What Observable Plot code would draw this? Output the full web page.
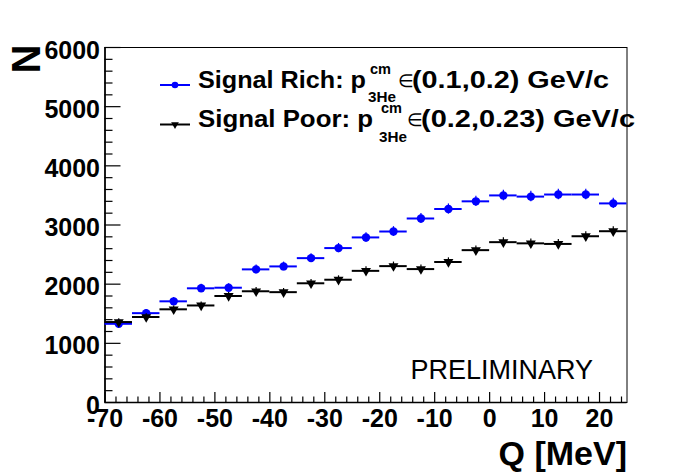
<!DOCTYPE html>
<html>
<head>
<meta charset="utf-8">
<script src="https://cdn.jsdelivr.net/npm/d3@7"></script>
<script src="https://cdn.jsdelivr.net/npm/@observablehq/plot@0.6"></script>
<style>
  html, body { margin: 0; padding: 0; background: #fff; }
  svg { display: block; }
</style>
</head>
<body>
<div id="chart"></div>
<script>
// ---- data ----
const qLow  = [-70, -65, -60, -55, -50, -45, -40, -35, -30, -25, -20, -15, -10, -5, 0, 5, 10, 15, 20];
const qHigh = [-65, -60, -55, -50, -45, -40, -35, -30, -25, -20, -15, -10, -5, 0, 5, 10, 15, 20, 25];
const richCounts = [1330, 1510, 1710, 1930, 1940, 2250, 2300, 2440, 2610, 2790, 2890, 3110, 3270, 3400, 3500, 3480, 3515, 3515, 3365];
const richErrors = [60, 62, 65, 68, 68, 72, 73, 75, 78, 80, 82, 84, 86, 88, 89, 89, 90, 90, 88];
const poorCounts = [1360, 1445, 1575, 1640, 1800, 1880, 1865, 2015, 2075, 2225, 2305, 2255, 2375, 2575, 2710, 2690, 2680, 2810, 2895];
const poorErrors = [55, 56, 58, 59, 61, 62, 62, 65, 66, 68, 69, 68, 70, 72, 74, 74, 74, 76, 77];
const xTickLabels = [-70, -60, -50, -40, -30, -20, -10, 0, 10, 20];
const yTickLabels = [0, 1000, 2000, 3000, 4000, 5000, 6000];

const xMinor = d3.range(-70, 25.01, 2).filter(v => v % 10 !== 0);
const yMinor = d3.range(0, 6000.1, 200).filter(v => v % 1000 !== 0);

const rich = qLow.map((lo, i) => ({lo, hi: qHigh[i], mid: (lo + qHigh[i]) / 2, n: richCounts[i], e: richErrors[i]}));
const poor = qLow.map((lo, i) => ({lo, hi: qHigh[i], mid: (lo + qHigh[i]) / 2, n: poorCounts[i], e: poorErrors[i]}));

const W = 696, H = 474;
const mL = 104.5, mR = 69.5, mT = 47, mB = 72;
const innerW = W - mL - mR, innerH = H - mT - mB;
const FONT = "'Liberation Sans', Arial, Helvetica, sans-serif";
const BLUE = "#0000ff";

const plot = Plot.plot({
  width: W,
  height: H,
  marginLeft: mL, marginRight: mR, marginTop: mT, marginBottom: mB,
  style: {fontFamily: FONT, background: "#fff", color: "#000", overflow: "visible"},
  x: {domain: [-70, 25], nice: false},
  y: {domain: [0, 6000], nice: false},
  marks: [
    Plot.frame({stroke: "#000", strokeWidth: 1}),
    Plot.ruleX([-70], {stroke: "#000", strokeWidth: 1.6}),
    Plot.ruleY([0], {stroke: "#000", strokeWidth: 1.6}),
    // inward ticks
    Plot.tickX(xTickLabels, {x: d => d, insetTop: innerH - 10, stroke: "#000", strokeWidth: 1.2}),
    Plot.tickX(xMinor, {x: d => d, insetTop: innerH - 5.5, stroke: "#000", strokeWidth: 1.2}),
    Plot.tickY(yTickLabels, {y: d => d, insetRight: innerW - 16, stroke: "#000", strokeWidth: 1.2}),
    Plot.tickY(yMinor, {y: d => d, insetRight: innerW - 8, stroke: "#000", strokeWidth: 1.2}),
    Plot.axisX(xTickLabels, {tickSize: 0, tickPadding: 7, fontSize: 25, fontWeight: "bold", tickFormat: d => String(d), label: null}),
    Plot.axisY(yTickLabels, {tickSize: 0, tickPadding: 5, fontSize: 25, fontWeight: "bold", dy: 3, tickFormat: d => String(d), label: null}),
    // signal rich
    Plot.ruleY(rich, {x1: "lo", x2: "hi", y: "n", stroke: BLUE, strokeWidth: 2}),
    Plot.ruleX(rich, {x: "mid", y1: d => d.n - d.e, y2: d => d.n + d.e, stroke: BLUE, strokeWidth: 1.2}),
    Plot.dot(rich, {x: "mid", y: "n", r: 4.2, fill: BLUE, stroke: null}),
    // signal poor
    Plot.ruleY(poor, {x1: "lo", x2: "hi", y: "n", stroke: "#000", strokeWidth: 2}),
    Plot.ruleX(poor, {x: "mid", y1: d => d.n - d.e, y2: d => d.n + d.e, stroke: "#000", strokeWidth: 1.2}),
    Plot.dot(poor, {x: "mid", y: "n", r: 3.7, symbol: "triangle", rotate: 180, fill: "#000", stroke: null}),
    // titles
    Plot.text(["N"], {frameAnchor: "top-left", text: d => d, rotate: -90, textAnchor: "end", lineAnchor: "bottom", dx: -65.5, dy: -3, fontSize: 40, fontWeight: "bold", fill: "#000"}),
    Plot.text(["Q [MeV]"], {frameAnchor: "bottom-right", text: d => d, textAnchor: "end", lineAnchor: "bottom", dx: 0, dy: 62, fontSize: 34, fontWeight: "bold", fill: "#000"}),
    Plot.text(["PRELIMINARY"], {frameAnchor: "bottom-right", text: d => d, textAnchor: "end", lineAnchor: "bottom", dx: -34, dy: -24, fontSize: 27, fill: "#000"})
  ]
});

document.getElementById("chart").appendChild(plot);

// ---- legend ----
const svg = d3.select(plot);
const lg = svg.append("g").attr("font-family", FONT).attr("fill", "#000").attr("text-anchor", "start");

function legendRow(y, color, isTriangle, main, mainLen, supX, supLen, subX, subLen, inX, rest, restX, restLen) {
  lg.append("line").attr("x1", 160).attr("x2", 190).attr("y1", y - 2.5).attr("y2", y - 2.5)
    .attr("stroke", color).attr("stroke-width", 2);
  if (isTriangle) {
    lg.append("path").attr("d", d3.symbol(d3.symbolTriangle, 26)())
      .attr("transform", `translate(175,${y - 2.5}) rotate(180)`).attr("fill", color);
  } else {
    lg.append("circle").attr("cx", 175).attr("cy", y - 2.5).attr("r", 3.3).attr("fill", color);
  }
  const t = (txt, x, yy, size, len, weight) => {
    const el = lg.append("text").attr("x", x).attr("y", yy).attr("font-size", size)
      .attr("font-weight", weight || "bold").attr("text-anchor", "start").text(txt);
    if (len) el.attr("textLength", len).attr("lengthAdjust", "spacingAndGlyphs");
    return el;
  };
  t(main, 198, y, 24, mainLen);
  t("cm", supX, y - 14, 15, supLen);
  t("3He", subX, y + 14.5, 15, subLen);
  t("\u2208", inX, y - 1, 18, null, "normal");
  t(rest, restX, y, 24, restLen);
}

legendRow(87.5, BLUE, false, "Signal Rich: p", 168, 370, 21, 368, 28, 398, "(0.1,0.2) GeV/c", 412, 197);
legendRow(127, "#000", true, "Signal Poor: p", 175, 381, 21, 379, 28, 407, "(0.2,0.23) GeV/c", 421, 214);
</script>
</body>
</html>
